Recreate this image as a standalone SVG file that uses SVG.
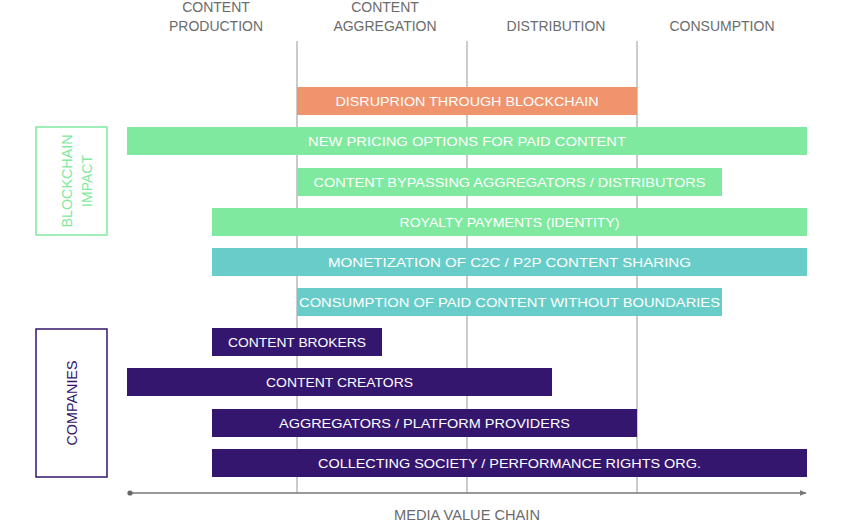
<svg xmlns="http://www.w3.org/2000/svg" width="858" height="531" viewBox="0 0 858 531">
<style>
.hdr{font-family:"Liberation Sans",Arial,sans-serif;font-size:14px;fill:#6b6b6b;text-anchor:middle}
.lbl{font-family:"Liberation Sans",Arial,sans-serif;font-size:13.5px;fill:#ffffff;text-anchor:middle}
.side{font-family:"Liberation Sans",Arial,sans-serif;font-size:14px;text-anchor:middle}
.green{fill:#80E9A0}
.teal{fill:#68CDC8}
.purple{fill:#34166E}
.orange{fill:#F0946E}
.vline{stroke:#a8a8a8;stroke-width:1.2}
</style>
<defs>
<marker id="arr" viewBox="0 0 10 10" refX="9" refY="5" markerWidth="7" markerHeight="7" orient="auto" markerUnits="userSpaceOnUse">
<path d="M0,1 L10,5 L0,9 Z" fill="#777"/>
</marker>
</defs>
<g id="headers">
<text class="hdr" x="216" y="12">CONTENT</text>
<text class="hdr" x="216" y="31">PRODUCTION</text>
<text class="hdr" x="385" y="12">CONTENT</text>
<text class="hdr" x="385" y="31">AGGREGATION</text>
<text class="hdr" x="556" y="31">DISTRIBUTION</text>
<text class="hdr" x="722" y="31">CONSUMPTION</text>
</g>
<g id="connectors">
<line class="vline" x1="297" y1="41" x2="297" y2="493"/>
<line class="vline" x1="467" y1="41" x2="467" y2="493"/>
<line class="vline" x1="637" y1="41" x2="637" y2="493"/>
<line x1="130" y1="493" x2="806" y2="493" stroke="#777" stroke-width="1.3" marker-end="url(#arr)"/>
<circle cx="130" cy="493" r="2.6" fill="#666"/>
</g>
<g id="blockchain-impact">
<rect x="36" y="127" width="71" height="108" fill="none" stroke="#80E9A0" stroke-width="1.5"/>
<text class="side" transform="translate(72,181) rotate(-90)" fill="#80E9A0" textLength="93" lengthAdjust="spacingAndGlyphs">BLOCKCHAIN</text>
<text class="side" transform="translate(92,181) rotate(-90)" fill="#80E9A0">IMPACT</text>
</g>
<g id="companies">
<rect x="36" y="329" width="71" height="148" fill="none" stroke="#34166E" stroke-width="1.5"/>
<text class="side" transform="translate(77,403) rotate(-90)" fill="#34166E" textLength="85" lengthAdjust="spacingAndGlyphs">COMPANIES</text>
</g>
<g id="bar-disruption"><rect class="orange" x="297" y="87" width="340" height="28"/><text class="lbl" x="467" y="106" textLength="263" lengthAdjust="spacingAndGlyphs">DISRUPRION THROUGH BLOCKCHAIN</text></g>
<g id="bar-pricing"><rect class="green" x="127" y="127" width="680" height="28"/><text class="lbl" x="467" y="146" textLength="318" lengthAdjust="spacingAndGlyphs">NEW PRICING OPTIONS FOR PAID CONTENT</text></g>
<g id="bar-bypassing"><rect class="green" x="297" y="168" width="425" height="28"/><text class="lbl" x="509.5" y="187" textLength="392" lengthAdjust="spacingAndGlyphs">CONTENT BYPASSING AGGREGATORS / DISTRIBUTORS</text></g>
<g id="bar-royalty"><rect class="green" x="212" y="208" width="595" height="28"/><text class="lbl" x="509.5" y="227" textLength="220" lengthAdjust="spacingAndGlyphs">ROYALTY PAYMENTS (IDENTITY)</text></g>
<g id="bar-monetization"><rect class="teal" x="212" y="248" width="595" height="28"/><text class="lbl" x="509.5" y="267" textLength="363" lengthAdjust="spacingAndGlyphs">MONETIZATION OF C2C / P2P CONTENT SHARING</text></g>
<g id="bar-consumption"><rect class="teal" x="297" y="288" width="425" height="28"/><text class="lbl" x="509.5" y="307" textLength="421" lengthAdjust="spacingAndGlyphs">CONSUMPTION OF PAID CONTENT WITHOUT BOUNDARIES</text></g>
<g id="bar-brokers"><rect class="purple" x="212" y="328" width="170" height="28"/><text class="lbl" x="297" y="347" textLength="138" lengthAdjust="spacingAndGlyphs">CONTENT BROKERS</text></g>
<g id="bar-creators"><rect class="purple" x="127" y="368" width="425" height="28"/><text class="lbl" x="339.5" y="387" textLength="147" lengthAdjust="spacingAndGlyphs">CONTENT CREATORS</text></g>
<g id="bar-aggregators"><rect class="purple" x="212" y="409" width="425" height="28"/><text class="lbl" x="424.5" y="428" textLength="291" lengthAdjust="spacingAndGlyphs">AGGREGATORS / PLATFORM PROVIDERS</text></g>
<g id="bar-collecting"><rect class="purple" x="212" y="449" width="595" height="28"/><text class="lbl" x="509.5" y="468" textLength="383" lengthAdjust="spacingAndGlyphs">COLLECTING SOCIETY / PERFORMANCE RIGHTS ORG.</text></g>
<g id="axis-label"><text class="hdr" x="467" y="520" textLength="146" lengthAdjust="spacingAndGlyphs">MEDIA VALUE CHAIN</text></g>
</svg>
